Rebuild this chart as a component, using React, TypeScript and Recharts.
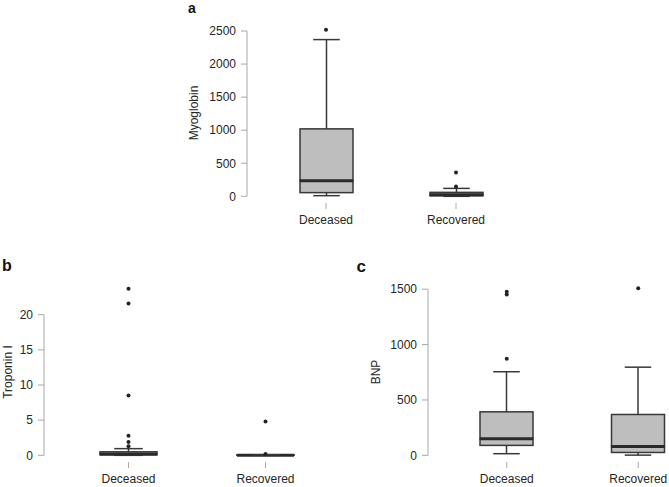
import { ComposedChart, Bar, Scatter, XAxis, YAxis, ReferenceLine } from 'recharts'

const GROUPS = ['Deceased', 'Recovered']

// Myoglobin
const MYO_MIN = [10, 0]
const MYO_Q1 = [56, 8]
const MYO_MED = [236, 25]
const MYO_Q3 = [1020, 60]
const MYO_MAX = [2370, 120]
const MYO_OUTLIERS = [[2520], [150, 360]]
const MYO_TICKS = [0, 500, 1000, 1500, 2000, 2500]

// Troponin I
const TNI_MIN = [0, 0]
const TNI_Q1 = [0.06, 0.01]
const TNI_MED = [0.2, 0.02]
const TNI_Q3 = [0.5, 0.05]
const TNI_MAX = [0.95, 0.08]
const TNI_OUTLIERS = [[1.3, 1.9, 2.8, 8.5, 21.6, 23.7], [0.2, 4.8]]
const TNI_TICKS = [0, 5, 10, 15, 20]

// BNP
const BNP_MIN = [15, 2]
const BNP_Q1 = [90, 26]
const BNP_MED = [150, 80]
const BNP_Q3 = [393, 369]
const BNP_MAX = [755, 796]
const BNP_OUTLIERS = [[872, 1452, 1476], [1508]]
const BNP_TICKS = [0, 500, 1000, 1500]

const FONT = '"Liberation Sans", Arial, Helvetica, sans-serif'
const INK = '#383838'
const TEXT = '#262626'
const AXIS = '#a8a8a8'
const BOX_FILL = '#bebebe'

function buildRows(min: number[], q1: number[], med: number[], q3: number[], max: number[]) {
  return GROUPS.map((name, i) => ({
    name,
    base: min[i],
    lowWhisker: q1[i] - min[i],
    boxLow: med[i] - q1[i],
    boxHigh: q3[i] - med[i],
    highWhisker: max[i] - q3[i],
  }))
}

function buildOutliers(out: number[][]) {
  return out.flatMap((vals, i) => vals.map((v) => ({ name: GROUPS[i], v })))
}

const Empty = () => <g />

const LowWhisker = (p: any) => {
  const cx = p.x + p.width / 2
  const bottom = p.y + p.height
  return (
    <g>
      <line x1={cx} x2={cx} y1={p.y} y2={bottom} stroke={INK} strokeWidth={1.5} />
      <line x1={cx - p.width / 4} x2={cx + p.width / 4} y1={bottom} y2={bottom} stroke={INK} strokeWidth={1.5} />
    </g>
  )
}

const HighWhisker = (p: any) => {
  const cx = p.x + p.width / 2
  return (
    <g>
      <line x1={cx} x2={cx} y1={p.y} y2={p.y + p.height} stroke={INK} strokeWidth={1.5} />
      <line x1={cx - p.width / 4} x2={cx + p.width / 4} y1={p.y} y2={p.y} stroke={INK} strokeWidth={1.5} />
    </g>
  )
}

const BoxLow = (p: any) => (
  <rect x={p.x} y={p.y} width={p.width} height={Math.max(p.height, 0)} fill={BOX_FILL} stroke={INK} strokeWidth={1.5} />
)

const BoxHigh = (p: any) => (
  <g>
    <rect x={p.x} y={p.y} width={p.width} height={Math.max(p.height, 0)} fill={BOX_FILL} stroke={INK} strokeWidth={1.5} />
    <line x1={p.x} x2={p.x + p.width} y1={p.y + p.height} y2={p.y + p.height} stroke="#2a2a2a" strokeWidth={3} />
  </g>
)

const Dot = (p: any) => <circle cx={p.cx} cy={p.cy} r={2} fill="#222" />

interface PanelProps {
  rows: ReturnType<typeof buildRows>
  outliers: { name: string; v: number }[]
  ticks: number[]
  domain: [number, number]
  title: string
  left: number
  top: number
  width: number
  marginTop: number
  yWidth: number
  padLeft: number
  padRight: number
  barSize: number
  labelOffset: number
}

function BoxPanel(props: PanelProps) {
  const { rows, outliers, ticks, domain, title, left, top, width, marginTop, yWidth, padLeft, padRight, barSize, labelOffset } = props
  const height = marginTop + 180 + 28
  return (
    <div style={{ position: 'absolute', left, top }}>
      <ComposedChart
        width={width}
        height={height}
        data={rows}
        margin={{ top: marginTop, right: 5, bottom: 0, left: 0 }}
        style={{ fontFamily: FONT }}
      >
        <XAxis
          dataKey="name"
          allowDuplicatedCategory={false}
          axisLine={false}
          tickLine={{ stroke: AXIS }}
          tickSize={6}
          tickMargin={6}
          height={28}
          padding={{ left: padLeft, right: padRight }}
          tick={{ fill: TEXT, fontSize: 12 }}
        />
        <XAxis xAxisId="n" type="number" domain={[0, 1]} allowDataOverflow hide />
        <YAxis
          type="number"
          domain={domain}
          allowDataOverflow
          ticks={ticks}
          width={yWidth}
          axisLine={false}
          tickLine={{ stroke: AXIS }}
          tickSize={6}
          tickMargin={5}
          tick={{ fill: TEXT, fontSize: 12 }}
          label={{
            value: title,
            angle: -90,
            position: 'insideLeft',
            offset: labelOffset,
            style: { textAnchor: 'middle', fill: TEXT, fontSize: 12 },
          }}
        />
        <ReferenceLine
          xAxisId="n"
          segment={[{ x: 0, y: ticks[0] }, { x: 0, y: ticks[ticks.length - 1] }]}
          stroke={AXIS}
          strokeWidth={1}
        />
        <Bar dataKey="base" stackId="box" barSize={barSize} shape={Empty} isAnimationActive={false} />
        <Bar dataKey="lowWhisker" stackId="box" barSize={barSize} shape={LowWhisker} isAnimationActive={false} />
        <Bar dataKey="boxLow" stackId="box" barSize={barSize} shape={BoxLow} isAnimationActive={false} />
        <Bar dataKey="boxHigh" stackId="box" barSize={barSize} shape={BoxHigh} isAnimationActive={false} />
        <Bar dataKey="highWhisker" stackId="box" barSize={barSize} shape={HighWhisker} isAnimationActive={false} />
        <Scatter data={outliers} dataKey="v" shape={Dot} isAnimationActive={false} />
      </ComposedChart>
    </div>
  )
}

export default function App() {
  return (
    <div style={{ position: 'absolute', left: 0, top: 0, width: 669, height: 487, overflow: 'hidden', background: '#fff' }}>
      <BoxPanel
        rows={buildRows(MYO_MIN, MYO_Q1, MYO_MED, MYO_Q3, MYO_MAX)}
        outliers={buildOutliers(MYO_OUTLIERS)}
        ticks={MYO_TICKS}
        domain={[-101, 2621]}
        title="Myoglobin"
        left={180}
        top={0}
        width={360}
        marginTop={23}
        yWidth={67}
        padLeft={14}
        padRight={14}
        barSize={53}
        labelOffset={14}
      />
      <BoxPanel
        rows={buildRows(TNI_MIN, TNI_Q1, TNI_MED, TNI_Q3, TNI_MAX)}
        outliers={buildOutliers(TNI_OUTLIERS)}
        ticks={TNI_TICKS}
        domain={[-0.95, 24.65]}
        title="Troponin I"
        left={0}
        top={250}
        width={355}
        marginTop={32}
        yWidth={44}
        padLeft={16}
        padRight={16}
        barSize={57}
        labelOffset={8}
      />
      <BoxPanel
        rows={buildRows(BNP_MIN, BNP_Q1, BNP_MED, BNP_Q3, BNP_MAX)}
        outliers={buildOutliers(BNP_OUTLIERS)}
        ticks={BNP_TICKS}
        domain={[-60, 1565]}
        title="BNP"
        left={360}
        top={250}
        width={360}
        marginTop={32}
        yWidth={68}
        padLeft={13}
        padRight={11}
        barSize={53}
        labelOffset={16}
      />
      <svg width={669} height={487} style={{ position: 'absolute', left: 0, top: 0, pointerEvents: 'none' }}>
        <text x={188} y={13} fontFamily={FONT} fontWeight="bold" fontSize={14} fill="#111">a</text>
        <text x={2} y={270.7} fontFamily={FONT} fontWeight="bold" fontSize={16} fill="#111">b</text>
        <text x={356.5} y={272} fontFamily={FONT} fontWeight="bold" fontSize={17} fill="#111">c</text>
      </svg>
    </div>
  )
}
